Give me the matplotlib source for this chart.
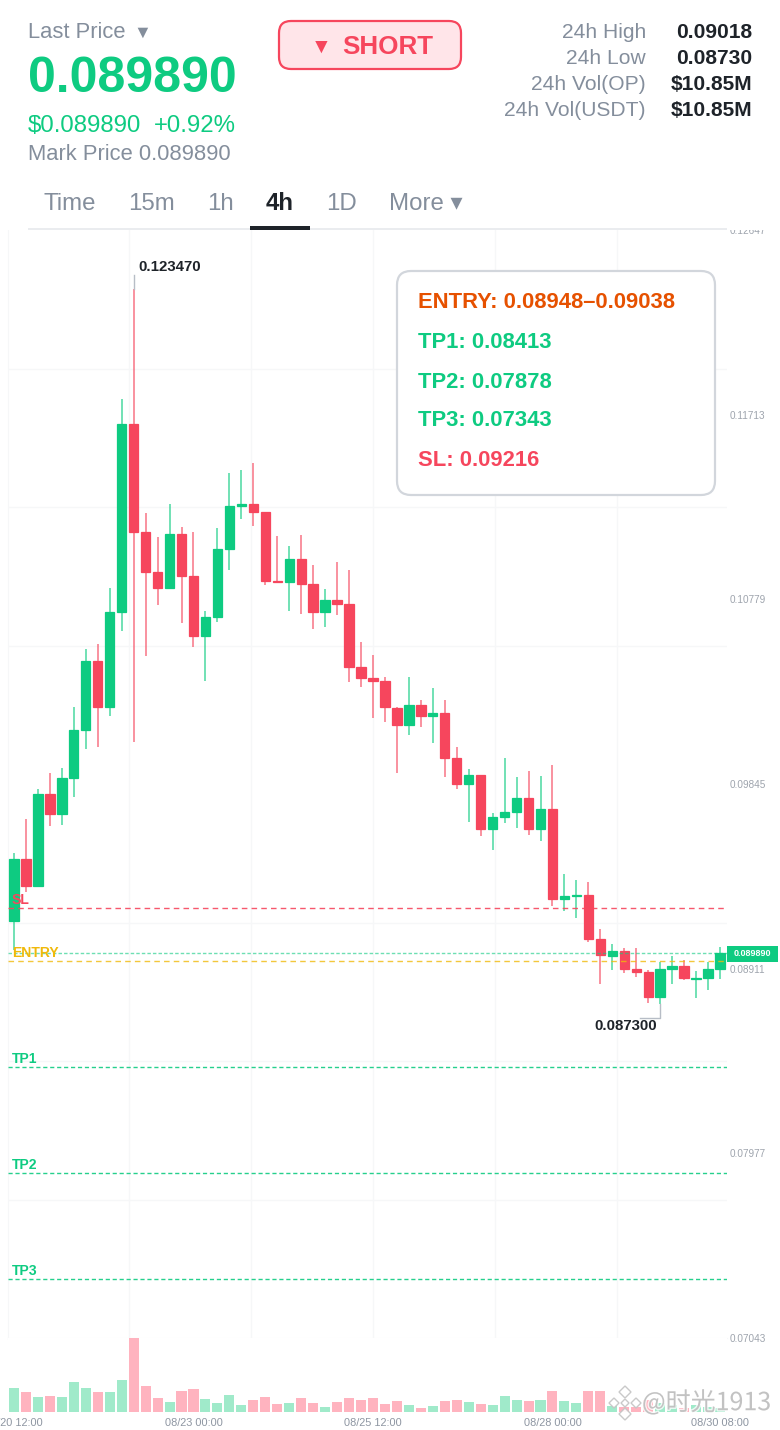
import matplotlib
matplotlib.use('Agg')
import matplotlib.pyplot as plt
import matplotlib.patheffects as pe
from matplotlib.patches import FancyBboxPatch, Rectangle, Polygon
import numpy as np

plt.rcParams['font.family'] = ['Liberation Sans', 'DejaVu Sans']

GREEN = '#0ECB81'
RED = '#F6465D'
GREY = '#848E9C'
DARK = '#1E2329'
GRID = '#F6F7F8'

# 4h candles
opens = [0.09152, 0.09466, 0.09329, 0.09794, 0.09693, 0.09875, 0.10118, 0.10467, 0.10234, 0.10715,
         0.11666, 0.11119, 0.10917, 0.10836, 0.11109, 0.10897, 0.10593, 0.10690, 0.11033, 0.11251,
         0.11261, 0.11221, 0.10872, 0.10867, 0.10983, 0.10856, 0.10715, 0.10776, 0.10755, 0.10437,
         0.10381, 0.10366, 0.10229, 0.10143, 0.10244, 0.10189, 0.10204, 0.09976, 0.09845, 0.09890,
         0.09617, 0.09678, 0.09703, 0.09774, 0.09617, 0.09718, 0.09263, 0.09281, 0.09283, 0.09061,
         0.08975, 0.09000, 0.08909, 0.08894, 0.08767, 0.08909, 0.08924, 0.08861, 0.08864, 0.08909]
highs = [0.09496, 0.09668, 0.09820, 0.09901, 0.09926, 0.10234, 0.10528, 0.10553, 0.10836, 0.11792,
         0.12347, 0.11216, 0.11094, 0.11261, 0.11145, 0.11119, 0.10720, 0.11140, 0.11418, 0.11433,
         0.11468, 0.11221, 0.11099, 0.11049, 0.11104, 0.10953, 0.10831, 0.10968, 0.10927, 0.10563,
         0.10497, 0.10386, 0.10234, 0.10386, 0.10270, 0.10330, 0.10270, 0.10032, 0.09921, 0.09890,
         0.09698, 0.09976, 0.09880, 0.09911, 0.09885, 0.09941, 0.09390, 0.09359, 0.09349, 0.09112,
         0.09036, 0.09015, 0.09015, 0.08904, 0.08945, 0.08975, 0.08955, 0.08899, 0.08945, 0.09020]
lows = [0.09005, 0.09299, 0.09324, 0.09632, 0.09637, 0.09779, 0.10022, 0.10032, 0.10189, 0.10619,
        0.10057, 0.10492, 0.10750, 0.10831, 0.10659, 0.10538, 0.10366, 0.10664, 0.10927, 0.11185,
        0.11150, 0.10851, 0.10862, 0.10720, 0.10705, 0.10629, 0.10639, 0.10700, 0.10361, 0.10335,
        0.10179, 0.10158, 0.09901, 0.10093, 0.10133, 0.10052, 0.09880, 0.09820, 0.09653, 0.09582,
        0.09511, 0.09648, 0.09622, 0.09587, 0.09557, 0.09228, 0.09203, 0.09167, 0.09046, 0.08833,
        0.08904, 0.08889, 0.08869, 0.08737, 0.08730, 0.08833, 0.08853, 0.08762, 0.08803, 0.08859]
closes = [0.09466, 0.09329, 0.09794, 0.09693, 0.09875, 0.10118, 0.10467, 0.10234, 0.10715, 0.11666,
          0.11119, 0.10917, 0.10836, 0.11109, 0.10897, 0.10593, 0.10690, 0.11033, 0.11251, 0.11261,
          0.11221, 0.10872, 0.10867, 0.10983, 0.10856, 0.10715, 0.10776, 0.10755, 0.10437, 0.10381,
          0.10368, 0.10234, 0.10143, 0.10244, 0.10189, 0.10204, 0.09976, 0.09845, 0.09890, 0.09617,
          0.09678, 0.09703, 0.09774, 0.09617, 0.09718, 0.09263, 0.09278, 0.09283, 0.09061, 0.08980,
          0.09000, 0.08909, 0.08894, 0.08767, 0.08909, 0.08924, 0.08864, 0.08864, 0.08909, 0.08989]
# relative volume (no axis in the picture)
volumes = [71, 59, 46, 48, 45, 90, 71, 60, 60, 96, 221, 78, 41, 30, 63, 68, 38, 27, 51, 22,
           36, 45, 24, 26, 41, 26, 15, 30, 41, 36, 42, 24, 32, 20, 12, 18, 32, 36, 30, 23,
           21, 49, 35, 33, 35, 63, 32, 26, 63, 64, 18, 14, 16, 36, 26, 21, 11, 21, 14, 12]

price_ticks = [0.12647, 0.11713, 0.10779, 0.09845, 0.08911, 0.07977, 0.07043]
time_ticks = [0, 15, 30, 45, 59]
time_labels = ['08/20 12:00', '08/23 00:00', '08/25 12:00', '08/28 00:00', '08/30 08:00']

last_price = 0.08989
sl_level = 0.09216
entry_level = 0.08948
tp_levels = [0.08413, 0.07878, 0.07343]
tp_names = ['TP1', 'TP2', 'TP3']

stats_names = ['24h High', '24h Low', '24h Vol(OP)', '24h Vol(USDT)']
stats_values = ['0.09018', '0.08730', '$10.85M', '$10.85M']
tab_names = ['Time', '15m', '1h', '4h', '1D', 'More ▾']
panel_lines = ['ENTRY: 0.08948–0.09038', 'TP1: 0.08413', 'TP2: 0.07878', 'TP3: 0.07343', 'SL: 0.09216']

W, H = 780, 1430
fig = plt.figure(figsize=(W / 100, H / 100), dpi=100, facecolor='white')


def px_axes(left, top, right, bottom, **kw):
    return fig.add_axes([left / W, 1 - bottom / H, (right - left) / W, (bottom - top) / H], **kw)


def fs(px):
    return px * 0.72


ax = px_axes(8, 230, 727, 1338)
vol = px_axes(8, 1338, 727, 1412)
top = px_axes(0, 0, W, H, zorder=5)

# main chart
x0, step = 14, 11.966
xlim = ((8 - x0) / step, (727 - x0) / step)
idx = np.arange(len(opens))
o, h, l, c = map(np.array, (opens, highs, lows, closes))
colors = [GREEN if cc >= oo else RED for oo, cc in zip(o, c)]

ax.vlines(idx, l, h, colors=colors, linewidth=1.1, alpha=0.75, zorder=2)
ax.bar(idx, np.abs(c - o), bottom=np.minimum(o, c), width=0.78, color=colors,
       edgecolor=colors, linewidth=0.9, zorder=3)
ax.set_xlim(xlim)
ax.set_ylim(price_ticks[-1], price_ticks[0])

ax.yaxis.tick_right()
ax.set_yticks(price_ticks)
ax.set_yticklabels(['%.5f' % p for p in price_ticks])
ax.tick_params(axis='y', which='major', length=0, pad=2.2, labelsize=fs(10), labelcolor='#9EA4AD')
ax.set_yticks(np.linspace(price_ticks[-1], price_ticks[0], 9), minor=True)
ax.set_xticks((np.array([129.4, 251.4, 373.4, 494.8, 616.8]) - x0) / step, minor=True)
ax.set_xticks([])
ax.tick_params(which='minor', length=0)
ax.grid(which='minor', color=GRID, linewidth=1, zorder=0)
ax.set_axisbelow(True)
for s in ['top', 'right']:
    ax.spines[s].set_visible(False)
for s in ['left', 'bottom']:
    ax.spines[s].set_color(GRID)

# level lines
trans = ax.get_yaxis_transform()
ax.axhline(sl_level, color=RED, lw=1, ls=(0, (4, 3)), alpha=0.9, zorder=4)
ax.axhline(last_price, color=GREEN, lw=1, ls=(0, (2.5, 1.5)), alpha=0.6, zorder=4)
ax.axhline(entry_level, color='#F0B90B', lw=1, ls=(0, (4, 3)), alpha=0.8, zorder=4)
for t in tp_levels:
    ax.axhline(t, color=GREEN, lw=1, ls=(0, (3, 2)), alpha=0.9, zorder=4)


def level_label(text, level, color):
    ax.annotate(text, xy=(0, level), xycoords=trans, xytext=(fs(4), fs(8)), textcoords='offset points',
                ha='left', va='center', fontsize=fs(14), fontweight='bold', color=color, zorder=6)


level_label('SL', sl_level, RED)
level_label('ENTRY', entry_level, '#F0B90B')
for name, t in zip(tp_names, tp_levels):
    level_label(name, t, GREEN)

# volume
vol_colors = ['#A0EACA' if cc == GREEN else '#FFB3BF' for cc in colors]
vol.bar(idx, volumes, width=0.84, color=vol_colors)
vol.set_xlim(xlim)
vol.set_ylim(0, max(volumes))
vol.set_yticks([])
vol.set_xticks(time_ticks)
vol.set_xticklabels(time_labels)
vol.tick_params(axis='x', length=0, pad=fs(6), labelsize=fs(11), labelcolor='#8E96A2')
for s in vol.spines.values():
    s.set_visible(False)

# everything else is page chrome, laid out in pixels
top.set_xlim(0, W)
top.set_ylim(H, 0)
top.axis('off')
top.patch.set_alpha(0)
top.add_patch(Rectangle((0, 0), W, 229.5, fc='white', ec='none'))


def t(x, y, s, px, color, ha='left', weight='normal', **kw):
    return top.text(x, y, s, fontsize=fs(px), color=color, ha=ha, va='center', fontweight=weight, **kw)


t(28, 33, 'Last Price', 22, GREY)
t(133, 33, '▼', 18, GREY)
t(28, 79, '0.089890', 50, GREEN, weight='bold')
t(28, 126, '$0.089890', 24, GREEN)
t(154, 126, '+0.92%', 24, GREEN)
t(28, 155, 'Mark Price 0.089890', 22, GREY)

top.add_patch(FancyBboxPatch((279, 21), 182, 48, boxstyle='round,pad=0,rounding_size=12',
                             fc='#FFE5E9', ec=RED, lw=1.6))
t(311, 47, '▼', 21, RED, weight='bold')
t(342, 47, 'SHORT', 26, RED, weight='bold')

for i, (n, v) in enumerate(zip(stats_names, stats_values)):
    yy = 33 + i * 26
    t(646, yy, n, 21, GREY, ha='right')
    t(752, yy, v, 21, DARK, ha='right', weight='bold')

for x, name in zip([44, 128, 207, 266, 326, 389], tab_names):
    sel = name == '4h'
    t(x, 204, name, 24, DARK if sel else GREY, weight='bold' if sel else 'normal')
top.add_patch(Rectangle((28, 228), 699, 2, fc='#EAECEF', ec='none'))
top.add_patch(Rectangle((250, 226), 60, 4, fc=DARK, ec='none'))

# signal panel
top.add_patch(FancyBboxPatch((397, 271), 318, 224, boxstyle='round,pad=0,rounding_size=14',
                             fc='white', ec='#D2D6DC', lw=1.6))
panel_colors = ['#E65100', GREEN, GREEN, GREEN, RED]
for yy, s, col in zip([301, 341, 381, 419, 459], panel_lines, panel_colors):
    t(418, yy + 2, s, 22, col, weight='bold')

# extreme markers
t(138, 267, '0.123470', 15, DARK, weight='bold')
top.plot([133.5, 133.5], [275, 289], color='#B7BDC6', lw=1)
t(594, 1026, '0.087300', 15, DARK, ha='left', weight='bold')
top.plot([640, 660, 660], [1018, 1018, 1004], color='#B7BDC6', lw=1)

# last price tag
top.add_patch(Rectangle((727, 945.5), 51, 16, fc=GREEN, ec='none'))
t(752.5, 954, '0.089890', 9, 'white', ha='center', weight='bold')

# watermark
halo = [pe.withStroke(linewidth=2, foreground='white', alpha=0.8)]
for cx, cy, r in [(625, 1392, 6), (614, 1403, 5), (636, 1403, 5), (625, 1414, 6), (625, 1403, 4)]:
    top.add_patch(Polygon([(cx, cy - r), (cx + r, cy), (cx, cy + r), (cx - r, cy)],
                          fc='#FFFFFF', ec='#C4C4C4', lw=1, alpha=0.9))
top.text(642, 1403, '@时光1913', fontsize=fs(25), color='#BDBDBD', ha='left', va='center',
         family=['Noto Sans CJK SC', 'DejaVu Sans'], path_effects=halo, alpha=0.9)

fig.savefig('out.png', dpi=100, facecolor='white')
